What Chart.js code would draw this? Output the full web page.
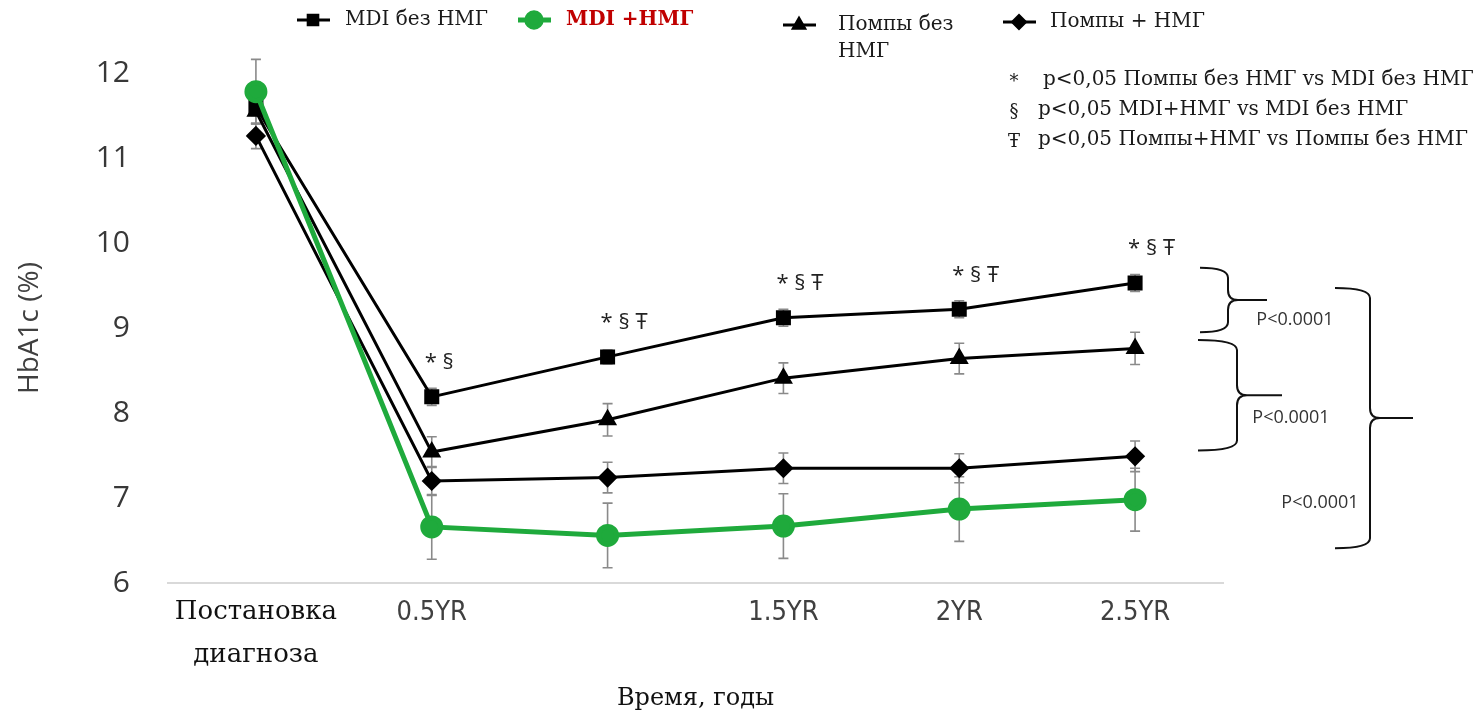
<!DOCTYPE html>
<html>
<head>
<meta charset="utf-8">
<script src="https://cdn.jsdelivr.net/npm/chart.js@4.4.1/dist/chart.umd.min.js"></script>
<style>
  html, body { margin: 0; padding: 0; background: #fff; }
  #wrap { width: 1476px; height: 716px; }
</style>
</head>
<body>
<div id="wrap"><canvas id="hba1cChart" width="1476" height="716"></canvas></div>
<script>
// categories (1YR has no label on the axis)
const categories = [["Постановка", "диагноза"], "0.5YR", "", "1.5YR", "2YR", "2.5YR"];

// HbA1c means (%)
const mdiNoCgm  = [11.60, 8.19, 8.66, 9.12, 9.22, 9.53];
const mdiCgm    = [11.78, 6.66, 6.56, 6.67, 6.87, 6.98];
const pumpNoCgm = [11.55, 7.54, 7.92, 8.41, 8.64, 8.76];
const pumpCgm   = [11.26, 7.20, 7.24, 7.35, 7.35, 7.49];

// error bars (+/-)
const errMdiNoCgm  = [0.10, 0.10, 0.08, 0.10, 0.10, 0.10];
const errMdiCgm    = [0.38, 0.38, 0.38, 0.38, 0.38, 0.37];
const errPumpNoCgm = [0.15, 0.18, 0.19, 0.18, 0.18, 0.19];
const errPumpCgm   = [0.15, 0.17, 0.18, 0.18, 0.17, 0.18];

const yTicks = [6, 7, 8, 9, 10, 11, 12];

const seriesNames = ["MDI без НМГ", "MDI +НМГ", "Помпы без НМГ", "Помпы + НМГ"];
const sigMarks = ["", "* §", "* § Ŧ", "* § Ŧ", "* § Ŧ", "* § Ŧ"];
const noteSymbols = ["*", "§", "Ŧ"];
const noteTexts = [
  "p<0,05 Помпы без НМГ vs MDI без НМГ",
  "p<0,05 MDI+НМГ vs MDI без НМГ",
  "p<0,05 Помпы+НМГ vs Помпы без НМГ"
];
const pLabels = ["P<0.0001", "P<0.0001", "P<0.0001"];

const GREEN = "#1faa3c";
const SERIF = "'DejaVu Serif', 'Liberation Serif', serif";
const SANS = "'Open Sans', 'Liberation Sans', sans-serif";
const NARROW = "'Liberation Sans Narrow', 'DejaVu Sans Condensed', sans-serif";

const errors = [errMdiNoCgm, errMdiCgm, errPumpNoCgm, errPumpCgm];

// error bars under the lines
const errorBarPlugin = {
  id: "errorBars",
  beforeDatasetsDraw(chart) {
    const ctx = chart.ctx;
    const yScale = chart.scales.y;
    ctx.save();
    ctx.strokeStyle = "#8a8a8a";
    ctx.lineWidth = 1.6;
    chart.data.datasets.forEach((ds, i) => {
      const meta = chart.getDatasetMeta(i);
      meta.data.forEach((pt, j) => {
        const v = ds.data[j], e = errors[i][j];
        const yt = yScale.getPixelForValue(v + e);
        const yb = yScale.getPixelForValue(v - e);
        ctx.beginPath();
        ctx.moveTo(pt.x, yt); ctx.lineTo(pt.x, yb);
        ctx.moveTo(pt.x - 5, yt); ctx.lineTo(pt.x + 5, yt);
        ctx.moveTo(pt.x - 5, yb); ctx.lineTo(pt.x + 5, yb);
        ctx.stroke();
      });
    });
    ctx.restore();
  }
};

function brace(ctx, x0, x1, tip, top, mid, bottom) {
  const r = 10;
  ctx.beginPath();
  ctx.moveTo(x0, top);
  ctx.quadraticCurveTo(x1, top, x1, top + r);
  ctx.lineTo(x1, mid - r);
  ctx.quadraticCurveTo(x1, mid, x1 + r, mid);
  ctx.lineTo(tip, mid);
  ctx.moveTo(x1 + r, mid);
  ctx.quadraticCurveTo(x1, mid, x1, mid + r);
  ctx.lineTo(x1, bottom - r);
  ctx.quadraticCurveTo(x1, bottom, x0, bottom);
  ctx.stroke();
}

const annotationPlugin = {
  id: "annotations",
  afterDraw(chart) {
    const ctx = chart.ctx;
    const y = chart.scales.y;
    const area = chart.chartArea;
    const topMeta = chart.getDatasetMeta(0);
    ctx.save();

    // significance marks above the top series
    ctx.fillStyle = "#222";
    ctx.font = "22px " + SANS;
    ctx.textAlign = "left";
    ctx.textBaseline = "middle";
    topMeta.data.forEach((pt, j) => {
      if (sigMarks[j]) ctx.fillText(sigMarks[j], pt.x - 7, pt.y - 34);
    });

    // braces on the right
    const R = area.right;
    ctx.strokeStyle = "#111";
    ctx.lineWidth = 2;
    brace(ctx, R - 23, R + 5, R + 44, y.getPixelForValue(9.71), y.getPixelForValue(9.33), y.getPixelForValue(8.95));
    brace(ctx, R - 25, R + 14, R + 59, y.getPixelForValue(8.86), y.getPixelForValue(8.21), y.getPixelForValue(7.56));
    brace(ctx, R + 112, R + 147, R + 190, y.getPixelForValue(9.47), y.getPixelForValue(7.94), y.getPixelForValue(6.41));
    ctx.fillStyle = "#333";
    ctx.font = "18px " + SANS;
    ctx.textAlign = "center";
    ctx.fillText(pLabels[0], R + 72, y.getPixelForValue(9.09));
    ctx.fillText(pLabels[1], R + 68, y.getPixelForValue(7.94));
    ctx.fillText(pLabels[2], R + 97, y.getPixelForValue(6.94));

    // legend across the top
    const legendPos = [
      { lx: 297, tx: 345, y: 20 },
      { lx: 518, tx: 566, y: 20 },
      { lx: 783, tx: 838, y: 25 },
      { lx: 1003, tx: 1050, y: 22 }
    ];
    chart.data.datasets.forEach((ds, i) => {
      const p = legendPos[i];
      ctx.strokeStyle = ds.borderColor;
      ctx.lineWidth = ds.borderWidth;
      ctx.beginPath();
      ctx.moveTo(p.lx, p.y); ctx.lineTo(p.lx + 33, p.y);
      ctx.stroke();
      ctx.fillStyle = ds.pointBackgroundColor;
      Chart.helpers.drawPoint(ctx, {
        pointStyle: ds.pointStyle, radius: ds.pointRadius * 0.8, rotation: 0, borderWidth: 1
      }, p.lx + 16, p.y);
      ctx.textAlign = "left";
      ctx.textBaseline = "middle";
      if (i === 1) {
        ctx.fillStyle = "#c00000";
        ctx.font = "bold 20px " + SERIF;
      } else {
        ctx.fillStyle = "#1a1a1a";
        ctx.font = "20px " + SERIF;
      }
      if (i === 2) {
        const parts = ds.label.split(" ");
        ctx.fillText(parts[0] + " " + parts[1], p.tx, p.y);
        ctx.fillText(parts[2], p.tx, p.y + 27);
      } else {
        ctx.fillText(ds.label, p.tx, p.y);
      }
    });

    // notes, top right
    ctx.fillStyle = "#1a1a1a";
    noteTexts.forEach((t, k) => {
      const ny = 80 + k * 30;
      ctx.font = "18px " + SERIF;
      ctx.textAlign = "center";
      ctx.fillText(noteSymbols[k], 1014, ny + 2);
      ctx.font = "20px " + SERIF;
      ctx.textAlign = "left";
      ctx.fillText(t, k === 0 ? 1043 : 1038, ny);
    });
    ctx.restore();
  }
};

const ctxChart = document.getElementById("hba1cChart").getContext("2d");
const hba1cChart = new Chart(ctxChart, {
  type: "line",
  data: {
    labels: categories,
    datasets: [{
      label: seriesNames[0],
      data: mdiNoCgm,
      borderColor: "#000",
      borderWidth: 3,
      pointStyle: "rect",
      pointRadius: 8.5,
      pointBackgroundColor: "#000",
      pointBorderColor: "#000",
      order: 1
    }, {
      label: seriesNames[1],
      data: mdiCgm,
      borderColor: GREEN,
      borderWidth: 5,
      pointStyle: "circle",
      pointRadius: 9,
      pointBackgroundColor: GREEN,
      pointBorderColor: GREEN,
      order: 0
    }, {
      label: seriesNames[2],
      data: pumpNoCgm,
      borderColor: "#000",
      borderWidth: 3,
      pointStyle: "triangle",
      pointRadius: 8,
      pointBackgroundColor: "#000",
      pointBorderColor: "#000",
      order: 1
    }, {
      label: seriesNames[3],
      data: pumpCgm,
      borderColor: "#000",
      borderWidth: 3,
      pointStyle: "rectRot",
      pointRadius: 8,
      pointBackgroundColor: "#000",
      pointBorderColor: "#000",
      order: 1
    }]
  },
  options: {
    responsive: false,
    animation: false,
    layout: { padding: { top: 73, right: 253, left: 0, bottom: 0 } },
    plugins: {
      legend: { display: false },
      tooltip: { enabled: false }
    },
    scales: {
      x: {
        offset: true,
        grid: { display: false, drawTicks: false },
        border: { color: "#d9d9d9", width: 2 },
        afterFit(scale) { scale.height = 133; },
        ticks: {
          padding: 8,
          maxRotation: 0,
          autoSkip: false,
          color: (c) => c.index === 0 ? "#111" : "#404040",
          font: (c) => c.index === 0
            ? { family: SERIF, size: 26, lineHeight: 1.65 }
            : { family: NARROW, size: 27, lineHeight: 1.65 }
        },
        title: {
          display: true,
          text: "Время, годы",
          color: "#111",
          font: { family: SERIF, size: 24 },
          padding: { top: 0, bottom: 3 }
        }
      },
      y: {
        min: 6,
        max: 12,
        afterFit(scale) { scale.width = 168; },
        afterBuildTicks(scale) { scale.ticks = yTicks.map(v => ({ value: v })); },
        grid: { display: false, drawTicks: false },
        border: { display: false },
        ticks: {
          padding: 38,
          color: "#383838",
          font: { family: SANS, size: 30 }
        },
        title: {
          display: true,
          text: "HbA1c (%)",
          color: "#404040",
          font: { family: SANS, size: 28 },
          padding: { top: 13, bottom: 0 }
        }
      }
    }
  },
  plugins: [errorBarPlugin, annotationPlugin]
});
</script>
</body>
</html>
